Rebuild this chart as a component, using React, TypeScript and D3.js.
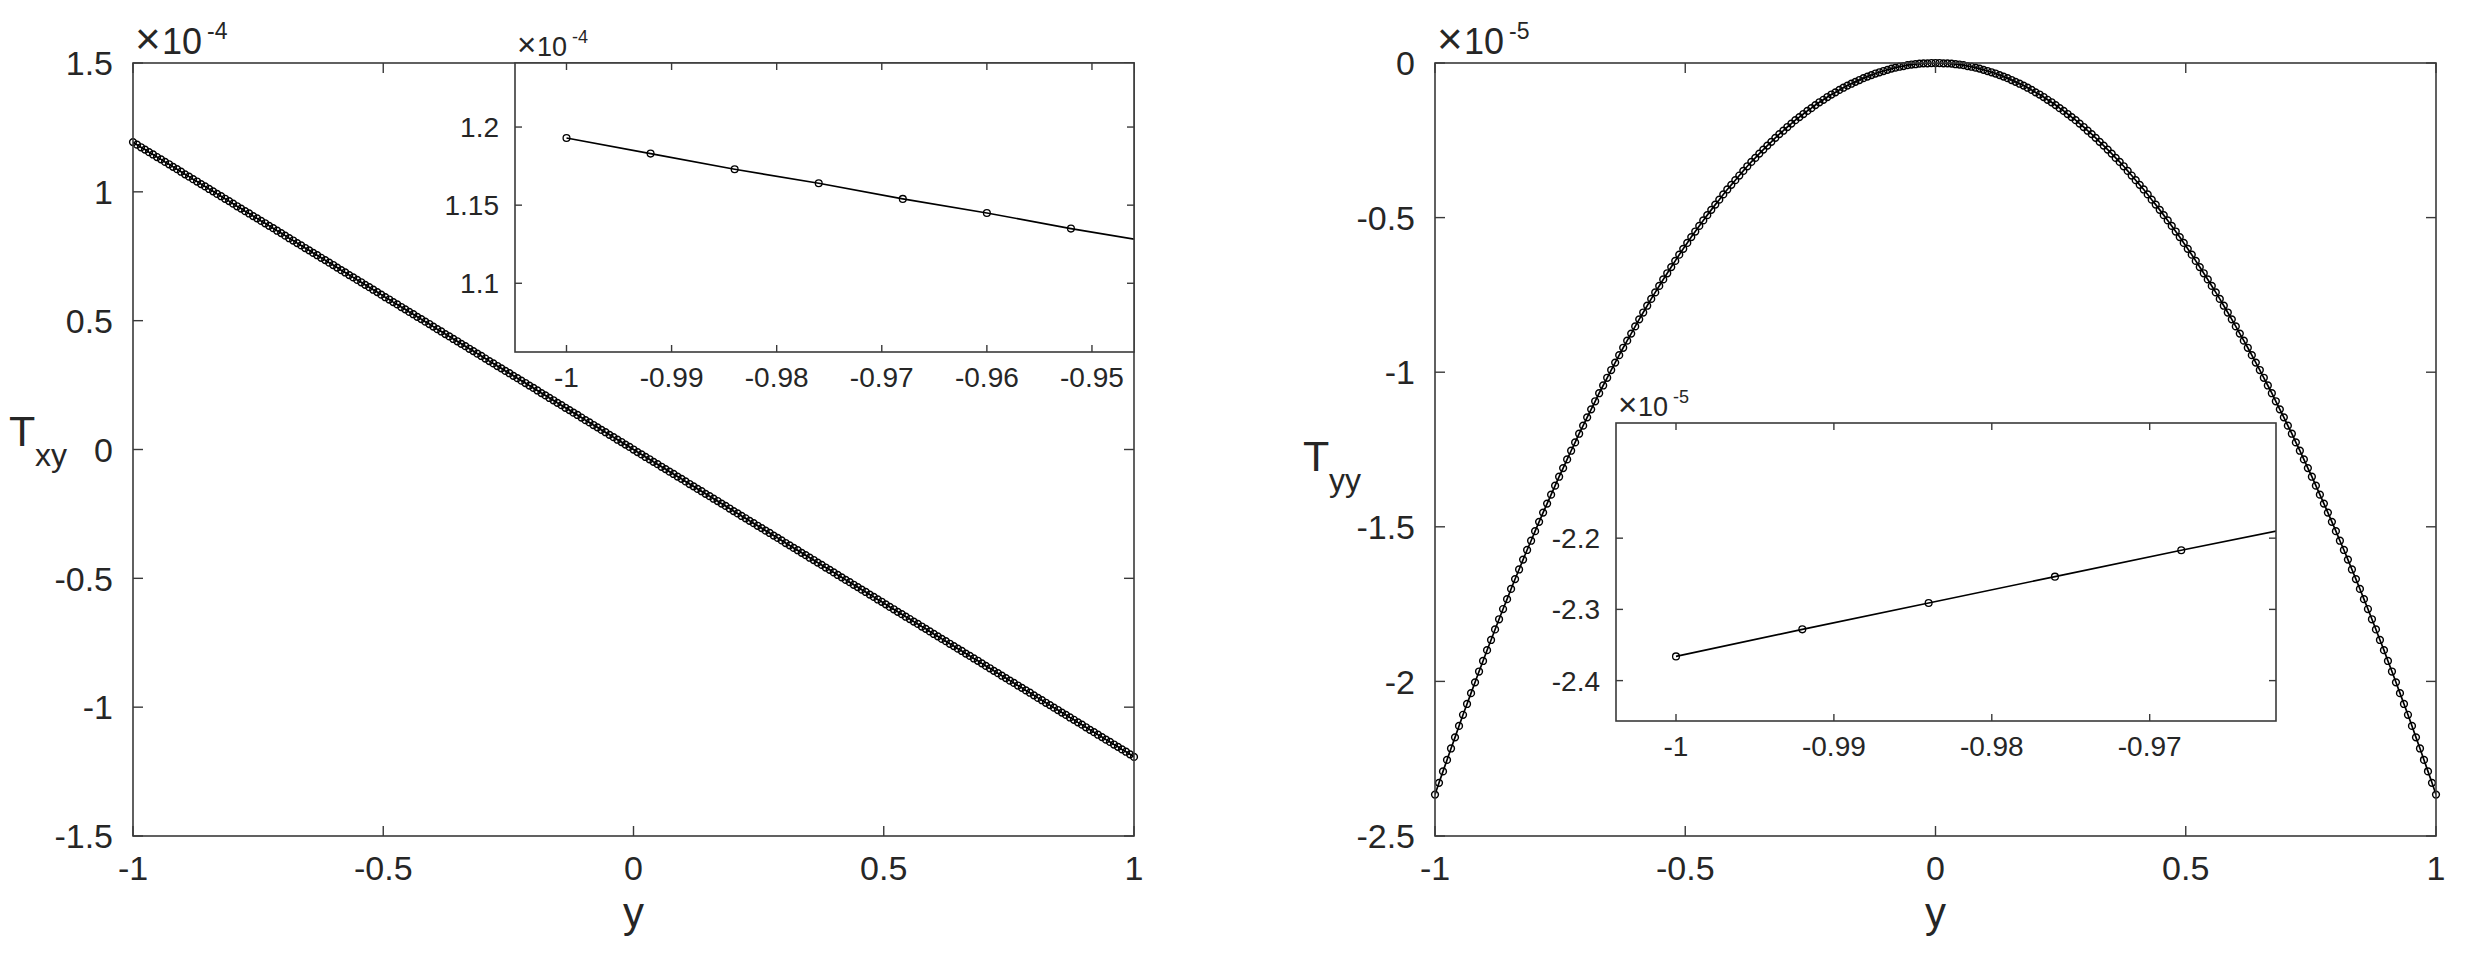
import React from 'react';
import * as d3 from 'd3';

// ---- data (values in units of the axis multipliers) ----
const yGrid = [
  -1, -0.992, -0.984, -0.976, -0.968, -0.96, -0.952, -0.944, -0.936, -0.928,
  -0.92, -0.912, -0.904, -0.896, -0.888, -0.88, -0.872, -0.864, -0.856, -0.848,
  -0.84, -0.832, -0.824, -0.816, -0.808, -0.8, -0.792, -0.784, -0.776, -0.768,
  -0.76, -0.752, -0.744, -0.736, -0.728, -0.72, -0.712, -0.704, -0.696, -0.688,
  -0.68, -0.672, -0.664, -0.656, -0.648, -0.64, -0.632, -0.624, -0.616, -0.608,
  -0.6, -0.592, -0.584, -0.576, -0.568, -0.56, -0.552, -0.544, -0.536, -0.528,
  -0.52, -0.512, -0.504, -0.496, -0.488, -0.48, -0.472, -0.464, -0.456, -0.448,
  -0.44, -0.432, -0.424, -0.416, -0.408, -0.4, -0.392, -0.384, -0.376, -0.368,
  -0.36, -0.352, -0.344, -0.336, -0.328, -0.32, -0.312, -0.304, -0.296, -0.288,
  -0.28, -0.272, -0.264, -0.256, -0.248, -0.24, -0.232, -0.224, -0.216, -0.208,
  -0.2, -0.192, -0.184, -0.176, -0.168, -0.16, -0.152, -0.144, -0.136, -0.128,
  -0.12, -0.112, -0.104, -0.096, -0.088, -0.08, -0.072, -0.064, -0.056, -0.048,
  -0.04, -0.032, -0.024, -0.016, -0.008, 0,
  0.008, 0.016, 0.024, 0.032, 0.04, 0.048, 0.056, 0.064, 0.072, 0.08,
  0.088, 0.096, 0.104, 0.112, 0.12, 0.128, 0.136, 0.144, 0.152, 0.16,
  0.168, 0.176, 0.184, 0.192, 0.2, 0.208, 0.216, 0.224, 0.232, 0.24,
  0.248, 0.256, 0.264, 0.272, 0.28, 0.288, 0.296, 0.304, 0.312, 0.32,
  0.328, 0.336, 0.344, 0.352, 0.36, 0.368, 0.376, 0.384, 0.392, 0.4,
  0.408, 0.416, 0.424, 0.432, 0.44, 0.448, 0.456, 0.464, 0.472, 0.48,
  0.488, 0.496, 0.504, 0.512, 0.52, 0.528, 0.536, 0.544, 0.552, 0.56,
  0.568, 0.576, 0.584, 0.592, 0.6, 0.608, 0.616, 0.624, 0.632, 0.64,
  0.648, 0.656, 0.664, 0.672, 0.68, 0.688, 0.696, 0.704, 0.712, 0.72,
  0.728, 0.736, 0.744, 0.752, 0.76, 0.768, 0.776, 0.784, 0.792, 0.8,
  0.808, 0.816, 0.824, 0.832, 0.84, 0.848, 0.856, 0.864, 0.872, 0.88,
  0.888, 0.896, 0.904, 0.912, 0.92, 0.928, 0.936, 0.944, 0.952, 0.96,
  0.968, 0.976, 0.984, 0.992, 1,
];

// T_xy (x 1e-4)
const txyValues = [
  1.193, 1.183, 1.173, 1.164, 1.154, 1.145, 1.135, 1.126, 1.116, 1.107,
  1.097, 1.088, 1.078, 1.068, 1.059, 1.049, 1.040, 1.030, 1.021, 1.011,
  1.002, 0.992, 0.983, 0.973, 0.964, 0.954, 0.944, 0.935, 0.925, 0.916,
  0.906, 0.897, 0.887, 0.878, 0.868, 0.859, 0.849, 0.840, 0.830, 0.820,
  0.811, 0.801, 0.792, 0.782, 0.773, 0.763, 0.754, 0.744, 0.735, 0.725,
  0.716, 0.706, 0.696, 0.687, 0.677, 0.668, 0.658, 0.649, 0.639, 0.630,
  0.620, 0.611, 0.601, 0.591, 0.582, 0.572, 0.563, 0.553, 0.544, 0.534,
  0.525, 0.515, 0.506, 0.496, 0.487, 0.477, 0.467, 0.458, 0.448, 0.439,
  0.429, 0.420, 0.410, 0.401, 0.391, 0.382, 0.372, 0.363, 0.353, 0.343,
  0.334, 0.324, 0.315, 0.305, 0.296, 0.286, 0.277, 0.267, 0.258, 0.248,
  0.239, 0.229, 0.219, 0.210, 0.200, 0.191, 0.181, 0.172, 0.162, 0.153,
  0.143, 0.134, 0.124, 0.114, 0.105, 0.095, 0.086, 0.076, 0.067, 0.057,
  0.048, 0.038, 0.029, 0.019, 0.010, 0,
  -0.010, -0.019, -0.029, -0.038, -0.048, -0.057, -0.067, -0.076, -0.086, -0.095,
  -0.105, -0.114, -0.124, -0.134, -0.143, -0.153, -0.162, -0.172, -0.181, -0.191,
  -0.200, -0.210, -0.219, -0.229, -0.239, -0.248, -0.258, -0.267, -0.277, -0.286,
  -0.296, -0.305, -0.315, -0.324, -0.334, -0.343, -0.353, -0.363, -0.372, -0.382,
  -0.391, -0.401, -0.410, -0.420, -0.429, -0.439, -0.448, -0.458, -0.467, -0.477,
  -0.487, -0.496, -0.506, -0.515, -0.525, -0.534, -0.544, -0.553, -0.563, -0.572,
  -0.582, -0.591, -0.601, -0.611, -0.620, -0.630, -0.639, -0.649, -0.658, -0.668,
  -0.677, -0.687, -0.696, -0.706, -0.716, -0.725, -0.735, -0.744, -0.754, -0.763,
  -0.773, -0.782, -0.792, -0.801, -0.811, -0.820, -0.830, -0.840, -0.849, -0.859,
  -0.868, -0.878, -0.887, -0.897, -0.906, -0.916, -0.925, -0.935, -0.944, -0.954,
  -0.964, -0.973, -0.983, -0.992, -1.002, -1.011, -1.021, -1.030, -1.040, -1.049,
  -1.059, -1.068, -1.078, -1.088, -1.097, -1.107, -1.116, -1.126, -1.135, -1.145,
  -1.154, -1.164, -1.173, -1.183, -1.193,
];

// T_yy (x 1e-5)
const tyyValues = [
  -2.366, -2.328, -2.291, -2.254, -2.217, -2.181, -2.144, -2.108, -2.073, -2.038,
  -2.003, -1.968, -1.934, -1.899, -1.866, -1.832, -1.799, -1.766, -1.734, -1.701,
  -1.669, -1.638, -1.606, -1.575, -1.545, -1.514, -1.484, -1.454, -1.425, -1.396,
  -1.367, -1.338, -1.310, -1.282, -1.254, -1.227, -1.199, -1.173, -1.146, -1.120,
  -1.094, -1.068, -1.043, -1.018, -0.993, -0.969, -0.945, -0.921, -0.898, -0.875,
  -0.852, -0.829, -0.807, -0.785, -0.763, -0.742, -0.721, -0.700, -0.680, -0.660,
  -0.640, -0.620, -0.601, -0.582, -0.563, -0.545, -0.527, -0.509, -0.492, -0.475,
  -0.458, -0.442, -0.425, -0.409, -0.394, -0.379, -0.364, -0.349, -0.334, -0.320,
  -0.307, -0.293, -0.280, -0.267, -0.255, -0.242, -0.230, -0.219, -0.207, -0.196,
  -0.185, -0.175, -0.165, -0.155, -0.146, -0.136, -0.127, -0.119, -0.110, -0.102,
  -0.095, -0.087, -0.080, -0.073, -0.067, -0.061, -0.055, -0.049, -0.044, -0.039,
  -0.034, -0.030, -0.026, -0.022, -0.018, -0.015, -0.012, -0.010, -0.007, -0.005,
  -0.004, -0.002, -0.001, -0.001, 0, 0,
  0, -0.001, -0.001, -0.002, -0.004, -0.005, -0.007, -0.010, -0.012, -0.015,
  -0.018, -0.022, -0.026, -0.030, -0.034, -0.039, -0.044, -0.049, -0.055, -0.061,
  -0.067, -0.073, -0.080, -0.087, -0.095, -0.102, -0.110, -0.119, -0.127, -0.136,
  -0.146, -0.155, -0.165, -0.175, -0.185, -0.196, -0.207, -0.219, -0.230, -0.242,
  -0.255, -0.267, -0.280, -0.293, -0.307, -0.320, -0.334, -0.349, -0.364, -0.379,
  -0.394, -0.409, -0.425, -0.442, -0.458, -0.475, -0.492, -0.509, -0.527, -0.545,
  -0.563, -0.582, -0.601, -0.620, -0.640, -0.660, -0.680, -0.700, -0.721, -0.742,
  -0.763, -0.785, -0.807, -0.829, -0.852, -0.875, -0.898, -0.921, -0.945, -0.969,
  -0.993, -1.018, -1.043, -1.068, -1.094, -1.120, -1.146, -1.173, -1.199, -1.227,
  -1.254, -1.282, -1.310, -1.338, -1.367, -1.396, -1.425, -1.454, -1.484, -1.514,
  -1.545, -1.575, -1.606, -1.638, -1.669, -1.701, -1.734, -1.766, -1.799, -1.832,
  -1.866, -1.899, -1.934, -1.968, -2.003, -2.038, -2.073, -2.108, -2.144, -2.181,
  -2.217, -2.254, -2.291, -2.328, -2.366,
];

// ---- ticks ----
const txyMainXTicks = [-1, -0.5, 0, 0.5, 1];
const txyMainYTicks = [-1.5, -1, -0.5, 0, 0.5, 1, 1.5];
const txyInsetXTicks = [-1, -0.99, -0.98, -0.97, -0.96, -0.95];
const txyInsetYTicks = [1.1, 1.15, 1.2];
const tyyMainXTicks = [-1, -0.5, 0, 0.5, 1];
const tyyMainYTicks = [-2.5, -2, -1.5, -1, -0.5, 0];
const tyyInsetXTicks = [-1, -0.99, -0.98, -0.97];
const tyyInsetYTicks = [-2.4, -2.3, -2.2];

const FONT = '"Liberation Sans", Arial, Helvetica, sans-serif';
const AX = '#3a3a3a';
const TXT = '#262626';

type AxesProps = {
  id: string;
  values: number[];
  left: number; right: number; top: number; bottom: number;
  xDomain: [number, number]; yDomain: [number, number];
  xTicks: number[]; yTicks: number[];
  fs: number; tickLen: number; yGap: number; xGap: number;
  exp: string; expFs: number; supFs: number; timesFs: number;
  expDx: [number, number, number]; expDy: [number, number];
  r: number; sw: number;
};

function Axes(p: AxesProps) {
  const x = d3.scaleLinear().domain(p.xDomain).range([p.left, p.right]);
  const y = d3.scaleLinear().domain(p.yDomain).range([p.bottom, p.top]);
  const n = Math.min(yGrid.length, p.values.length);
  const pts: [number, number][] = [];
  for (let i = 0; i < n; i++) pts.push([yGrid[i], p.values[i]]);
  const line = d3.line<[number, number]>().x(d => x(d[0])).y(d => y(d[1]));
  const eps = 1e-9;
  const vis = pts.filter(d => d[0] >= p.xDomain[0] - eps && d[0] <= p.xDomain[1] + eps && d[1] >= p.yDomain[0] - eps && d[1] <= p.yDomain[1] + eps);
  const cap = 0.716 * p.fs;
  return (
    <g>
      <defs>
        <clipPath id={`clip-${p.id}`}>
          <rect x={p.left} y={p.top} width={p.right - p.left} height={p.bottom - p.top} />
        </clipPath>
      </defs>
      <rect x={p.left} y={p.top} width={p.right - p.left} height={p.bottom - p.top} fill="#fff" />
      <path d={line(pts) || ''} fill="none" stroke="#000" strokeWidth={1.7} clipPath={`url(#clip-${p.id})`} />
      {vis.map((d, i) => (
        <circle key={i} cx={x(d[0])} cy={y(d[1])} r={p.r} fill="none" stroke="#000" strokeWidth={p.sw} />
      ))}
      <rect x={p.left} y={p.top} width={p.right - p.left} height={p.bottom - p.top} fill="none" stroke={AX} strokeWidth={1.6} />
      {p.xTicks.map(t => (
        <g key={`xt${t}`}>
          <line x1={x(t)} x2={x(t)} y1={p.bottom} y2={p.bottom - p.tickLen} stroke={AX} strokeWidth={1.4} />
          <line x1={x(t)} x2={x(t)} y1={p.top} y2={p.top + p.tickLen} stroke={AX} strokeWidth={1.4} />
          <text x={x(t)} y={p.bottom + p.xGap + cap} textAnchor="middle" fontSize={p.fs} fontFamily={FONT} fill={TXT}>{String(t)}</text>
        </g>
      ))}
      {p.yTicks.map(t => (
        <g key={`yt${t}`}>
          <line x1={p.left} x2={p.left + p.tickLen} y1={y(t)} y2={y(t)} stroke={AX} strokeWidth={1.4} />
          <line x1={p.right} x2={p.right - p.tickLen} y1={y(t)} y2={y(t)} stroke={AX} strokeWidth={1.4} />
          <text x={p.left - p.yGap} y={y(t) + cap / 2} textAnchor="end" fontSize={p.fs} fontFamily={FONT} fill={TXT}>{String(t)}</text>
        </g>
      ))}
      <text x={p.left + p.expDx[0]} y={p.top - p.expDy[0]} fontSize={p.timesFs} fontFamily={FONT} fill={TXT}>×</text>
      <text x={p.left + p.expDx[1]} y={p.top - p.expDy[0]} fontSize={p.expFs} fontFamily={FONT} fill={TXT}>10</text>
      <text x={p.left + p.expDx[2]} y={p.top - p.expDy[1]} fontSize={p.supFs} fontFamily={FONT} fill={TXT}>{p.exp}</text>
    </g>
  );
}

export default function App() {
  const W = 2472, H = 959;
  return (
    <svg width={W} height={H} viewBox={`0 0 ${W} ${H}`} style={{ position: 'absolute', left: 0, top: 0, background: '#fff' }}>
      <rect x={0} y={0} width={W} height={H} fill="#fff" />
      {/* Left panel: T_xy */}
      <Axes id="txy-main" values={txyValues} left={133} right={1134} top={63} bottom={836}
        xDomain={[-1, 1]} yDomain={[-1.5, 1.5]} xTicks={txyMainXTicks} yTicks={txyMainYTicks}
        fs={34} tickLen={10} yGap={20} xGap={20} exp="-4" expFs={36} supFs={23} timesFs={44}
        expDx={[2, 29, 74]} expDy={[9, 24]} r={3.4} sw={1.45} />
      <Axes id="txy-inset" values={txyValues} left={515} right={1134} top={63} bottom={352}
        xDomain={[-1.0049, -0.946]} yDomain={[1.056, 1.241]} xTicks={txyInsetXTicks} yTicks={txyInsetYTicks}
        fs={28} tickLen={7} yGap={16} xGap={15} exp="-4" expFs={27} supFs={18} timesFs={33}
        expDx={[2, 22, 57]} expDy={[7, 20]} r={3.4} sw={1.3} />
      <text x={9} y={446} fontSize={43} fontFamily={FONT} fill={TXT}>T</text>
      <text x={35} y={466} fontSize={32} fontFamily={FONT} fill={TXT}>xy</text>
      <text x={633.5} y={927} textAnchor="middle" fontSize={42} fontFamily={FONT} fill={TXT}>y</text>

      {/* Right panel: T_yy */}
      <Axes id="tyy-main" values={tyyValues} left={1435} right={2436} top={63} bottom={836}
        xDomain={[-1, 1]} yDomain={[-2.5, 0]} xTicks={tyyMainXTicks} yTicks={tyyMainYTicks}
        fs={34} tickLen={10} yGap={20} xGap={20} exp="-5" expFs={36} supFs={23} timesFs={44}
        expDx={[2, 29, 74]} expDy={[9, 24]} r={3.4} sw={1.45} />
      <Axes id="tyy-inset" values={tyyValues} left={1616} right={2276} top={423} bottom={721}
        xDomain={[-1.0038, -0.962]} yDomain={[-2.4567, -2.0383]} xTicks={tyyInsetXTicks} yTicks={tyyInsetYTicks}
        fs={28} tickLen={7} yGap={16} xGap={15} exp="-5" expFs={27} supFs={18} timesFs={33}
        expDx={[2, 22, 57]} expDy={[7, 20]} r={3.4} sw={1.3} />
      <text x={1303} y={471} fontSize={43} fontFamily={FONT} fill={TXT}>T</text>
      <text x={1329} y={491} fontSize={32} fontFamily={FONT} fill={TXT}>yy</text>
      <text x={1935.5} y={927} textAnchor="middle" fontSize={42} fontFamily={FONT} fill={TXT}>y</text>
    </svg>
  );
}
